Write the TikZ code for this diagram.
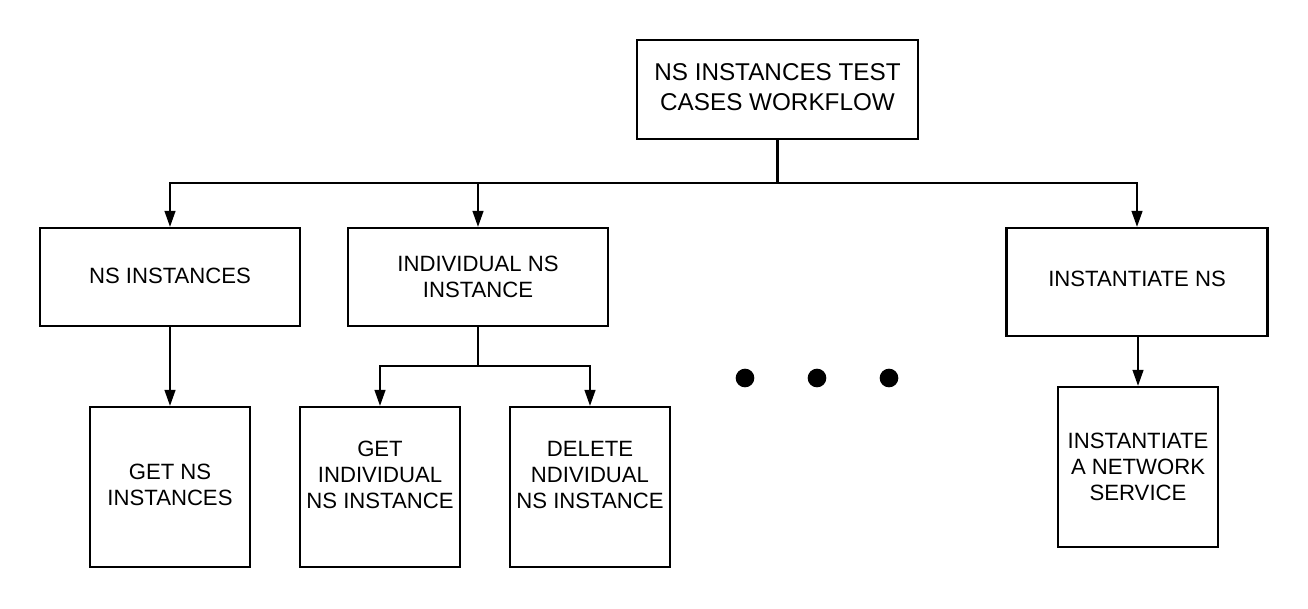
\documentclass[tikz,border=0pt]{standalone}
\usepackage{fontspec}
\setmainfont{Liberation Sans}
\usetikzlibrary{arrows.meta}
\newcommand{\liftlines}[2]{\raisebox{#1}[\height][\depth]{\begin{tabular}{@{}c@{}}#2\end{tabular}}}
\begin{document}
\begin{tikzpicture}[x=0.75pt,y=-0.75pt,
  box/.style={draw=black,line width=1.6pt,fill=white,align=center,inner sep=0pt,
    font=\fontsize{16.6pt}{19.6pt}\selectfont},
  conn/.style={line width=1.6pt,-{Triangle[length=12pt,width=8pt]}},
  plain/.style={line width=1.6pt},
  dot/.style={fill=black,draw=none}]
\useasboundingbox (0,0) rectangle (1308,608);
\node[box,minimum width=210.75pt,minimum height=74.25pt,font=\fontsize{18.2pt}{22.5pt}\selectfont] (top) at (777.5,89.5) {\liftlines{0pt}{NS INSTANCES TEST\\CASES WORKFLOW}};
\node[box,minimum width=195pt,minimum height=73.5pt] (nsi) at (170,277) {\liftlines{-0.75pt}{NS INSTANCES}};
\node[box,minimum width=195pt,minimum height=73.5pt] (ind) at (478,277) {\liftlines{-1.5pt}{INDIVIDUAL NS\\INSTANCE}};
\node[box,minimum width=195.75pt,minimum height=81pt] (inst) at (1137,282) {\liftlines{0.75pt}{INSTANTIATE NS}};
\node[box,minimum width=120pt,minimum height=120pt] (getns) at (170,487) {\liftlines{0pt}{GET NS\\INSTANCES}};
\node[box,minimum width=120pt,minimum height=120pt] (getind) at (380,487) {\liftlines{7.5pt}{GET\\INDIVIDUAL\\NS INSTANCE}};
\node[box,minimum width=120pt,minimum height=120pt] (del) at (590,487) {\liftlines{7.5pt}{DELETE\\NDIVIDUAL\\NS INSTANCE}};
\node[box,minimum width=120pt,minimum height=120pt] (net) at (1138,467) {\liftlines{-1.5pt}{INSTANTIATE\\A NETWORK\\SERVICE}};
\coordinate (bus) at (777.5,183);
\coordinate (bus2) at (478,366);
\draw[plain] (top) -- (bus);
\draw[conn] (bus) -| (nsi);
\draw[conn] (bus) -| (ind);
\draw[conn] (bus) -| (inst);
\draw[conn] (nsi) -- (getns);
\draw[plain] (ind) -- (bus2);
\draw[conn] (bus2) -| (getind);
\draw[conn] (bus2) -| (del);
\draw[conn] (inst.south -| net.north) -- (net);
\fill[dot] (745,378) circle (7pt);
\fill[dot] (817,378) circle (7pt);
\fill[dot] (889,378) circle (7pt);
\end{tikzpicture}
\end{document}
